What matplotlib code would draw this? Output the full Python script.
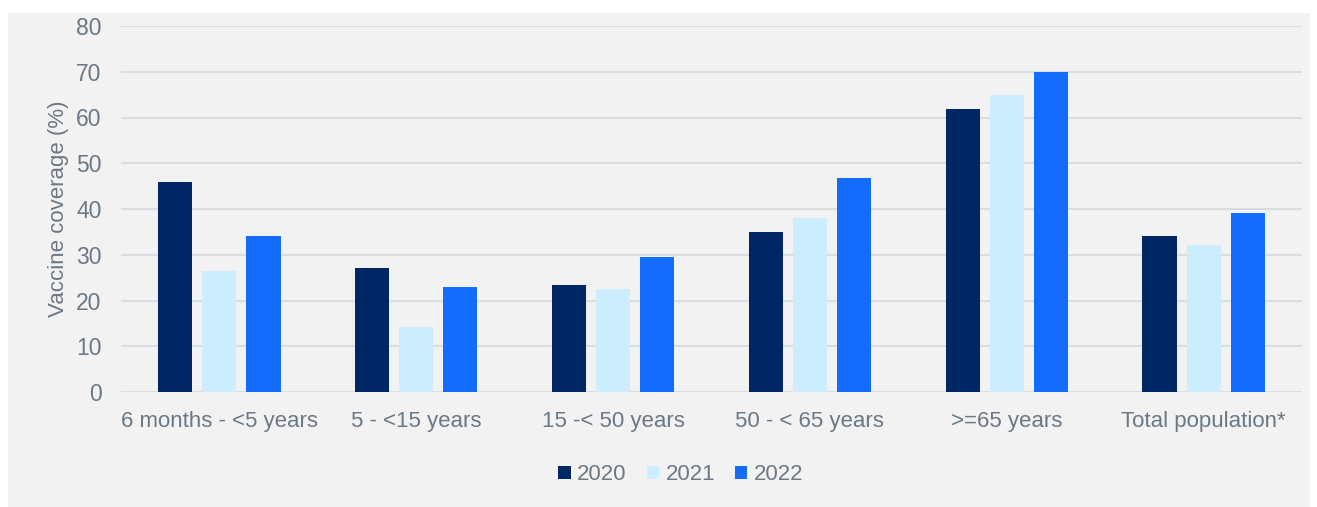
import numpy as np
import matplotlib.pyplot as plt
from matplotlib.patches import Rectangle

# --- Data ----------------------------------------------------------------------
categories = ['6 months - <5 years', '5 - <15 years', '15 -< 50 years',
              '50 - < 65 years', '>=65 years', 'Total population*']
years = ['2020', '2021', '2022']
cov_2020 = [46.0, 27.2, 23.3, 35.0, 61.9, 34.1]
cov_2021 = [26.4, 14.3, 22.6, 38.1, 65.0, 32.1]
cov_2022 = [34.0, 23.0, 29.4, 46.7, 70.0, 39.2]

colors = ['#002664', '#CBEDFD', '#146CFD']
text_col = '#6b7885'
grid_col = '#d9dde2'
panel_col = '#f2f2f2'

plt.rcParams['font.family'] = ['Liberation Sans', 'DejaVu Sans']

W, H = 1317, 507
fig = plt.figure(figsize=(W / 100, H / 100), dpi=100, facecolor='white')

# grey panel behind the chart
fig.patches.append(Rectangle((8 / W, 0), (1310 - 8) / W, 1 - 13 / H,
                             transform=fig.transFigure, facecolor=panel_col,
                             edgecolor='none', zorder=-10))

ax = fig.add_axes([121 / W, 1 - 392 / H, (1302 - 121) / W, (392 - 26) / H])
ax.set_facecolor('none')

x = np.arange(len(categories))
bw = 0.173
step = 0.224
for i, (vals, c, lab) in enumerate(zip([cov_2020, cov_2021, cov_2022], colors, years)):
    ax.bar(x + (i - 1) * step, vals, width=bw, color=c, label=lab, zorder=3)

ax.set_xlim(-0.5, len(categories) - 0.5)
ax.set_ylim(0, 80)
ax.set_yticks(range(0, 81, 10))
ax.yaxis.grid(True, color=grid_col, linewidth=1.5, zorder=0)
ax.set_axisbelow(True)
for s in ax.spines.values():
    s.set_visible(False)

ax.set_xticks(x)
ax.set_xticklabels(categories)
ax.tick_params(axis='both', length=0, colors=text_col)
ax.tick_params(axis='x', pad=14, labelsize=16)
ax.tick_params(axis='y', pad=14, labelsize=16.5)
ax.set_ylabel('Vaccine coverage (%)', color=text_col, fontsize=16, labelpad=5)

leg = fig.legend(loc='center', bbox_to_anchor=(681 / W, 1 - 475 / H), ncol=3,
                 frameon=False, fontsize=16, handlelength=0.55, handleheight=0.55,
                 handletextpad=0.3, columnspacing=0.9)
for t in leg.get_texts():
    t.set_color(text_col)

fig.savefig('out.png', dpi=100, facecolor='white')
